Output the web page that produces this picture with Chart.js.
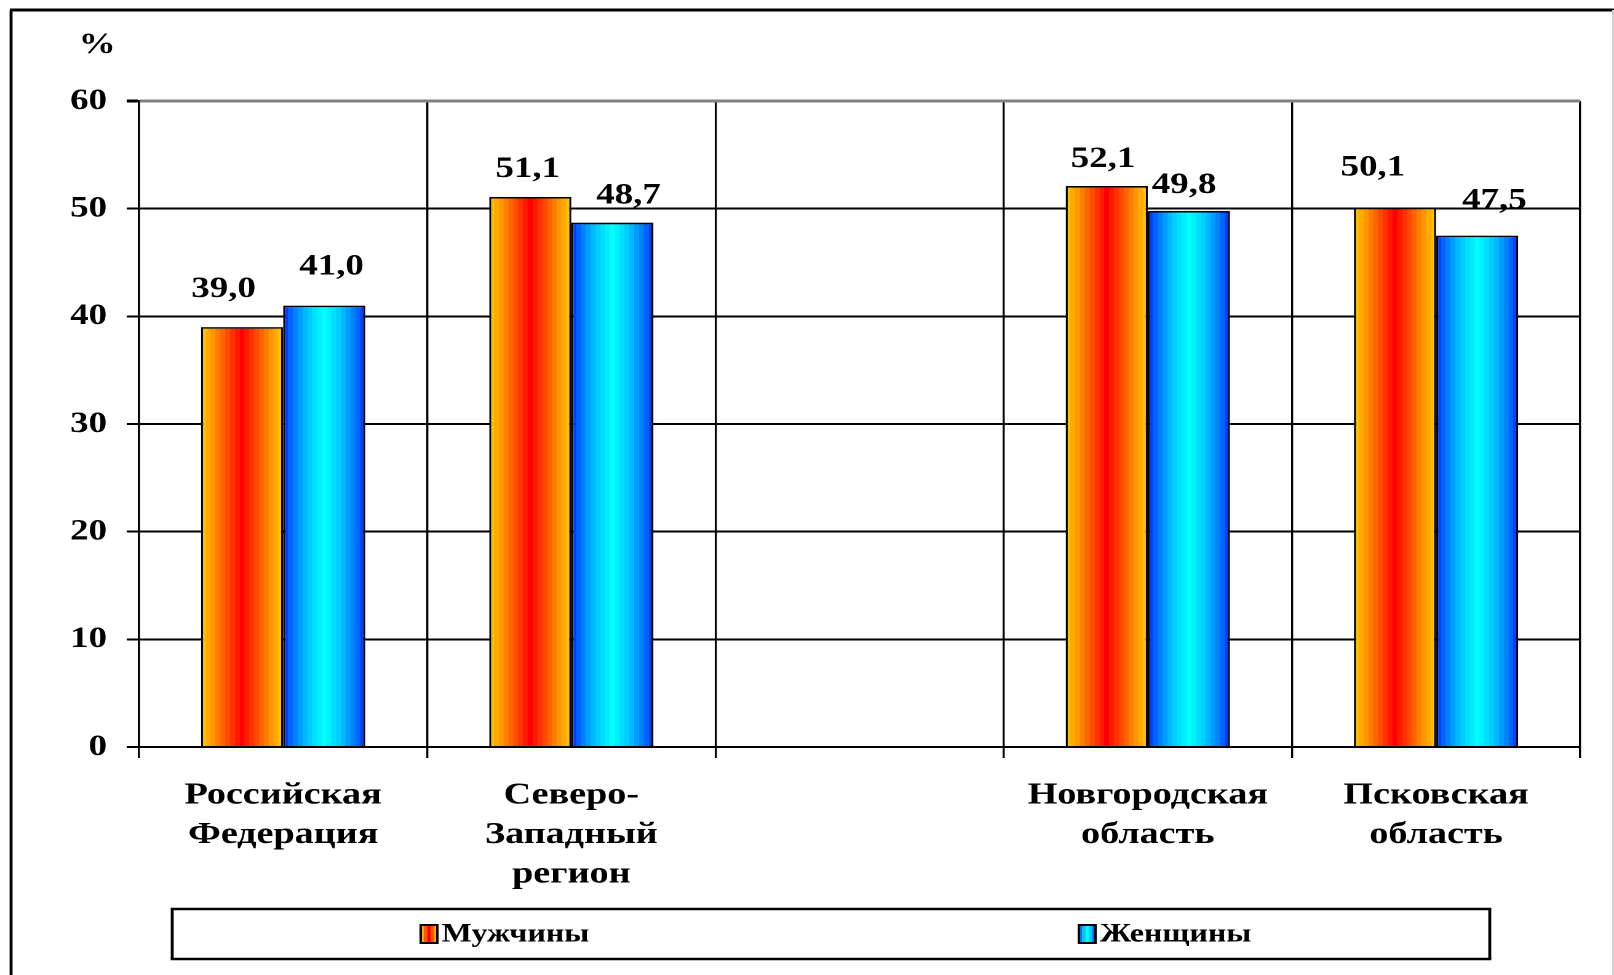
<!DOCTYPE html>
<html>
<head>
<meta charset="utf-8">
<script src="https://cdn.jsdelivr.net/npm/chart.js@4.4.1/dist/chart.umd.min.js"></script>
<style>
html, body { margin: 0; padding: 0; background: #ffffff; overflow: hidden; }
canvas { display: block; }
</style>
</head>
<body>
<!-- the chart is laid out 1312 units wide and shown stretched to 1614 px, like the original wide picture -->
<canvas id="chart" width="1312" height="975" style="width:1614px;height:975px"></canvas>
<script>
// ---------- data ----------
const categories = [["Российская", "Федерация"], ["Северо-", "Западный", "регион"], "", ["Новгородская", "область"], ["Псковская", "область"]];
const seriesNames = ["Мужчины", "Женщины"];
const menValues = [39.0, 51.1, null, 52.1, 50.1];
const womenValues = [41.0, 48.7, null, 49.8, 47.5];
const yTickValues = [0, 10, 20, 30, 40, 50, 60];
const unitLabel = "%";

// ---------- style ----------
const FONT = "'Liberation Serif', 'Times New Roman', serif";
const MEN_STOPS = [[0, '#FF0000'], [0.35, '#FF4A00'], [0.7, '#FF9600'], [1, '#FFC800']];
const WOMEN_STOPS = [[0, '#00FFFF'], [0.4, '#00C8FF'], [0.75, '#0078FF'], [1, '#0030FF']];
const SERIES_STOPS = [MEN_STOPS, WOMEN_STOPS];
const VLINE = 1.7;   // width of vertical lines in layout units

function hexToRgb(h) { return [parseInt(h.slice(1, 3), 16), parseInt(h.slice(3, 5), 16), parseInt(h.slice(5, 7), 16)]; }
function colorAt(stops, d) {
  for (let i = 1; i < stops.length; i++) {
    if (d <= stops[i][0]) {
      const a = stops[i - 1], b = stops[i];
      const f = (d - a[0]) / (b[0] - a[0]);
      const ca = hexToRgb(a[1]), cb = hexToRgb(b[1]);
      return 'rgb(' + ca.map((v, k) => Math.round(v + (cb[k] - v) * f)).join(',') + ')';
    }
  }
  return stops[stops.length - 1][1];
}
function bandGradient(ctx, x0, x1, stops, bands) {
  const g = ctx.createLinearGradient(x0, 0, x1, 0);
  for (let k = 0; k < bands; k++) {
    const t0 = k / bands, t1 = (k + 1) / bands;
    const d = Math.abs((t0 + t1) / 2 - 0.5) * 2;
    const c = colorAt(stops, d);
    g.addColorStop(t0, c);
    g.addColorStop(t1, c);
  }
  return g;
}
const fmt = v => v.toFixed(1).replace('.', ',');

// ---------- plugins ----------
const framePlugin = {
  id: 'frame',
  beforeDraw(chart) {
    const ctx = chart.ctx;
    const W = chart.width, H = chart.height;
    ctx.save();
    ctx.strokeStyle = '#000';
    ctx.lineWidth = 2.4;
    ctx.beginPath(); ctx.moveTo(9, H); ctx.lineTo(9, 10); ctx.stroke();
    ctx.lineWidth = 3;
    ctx.beginPath(); ctx.moveTo(8, 10); ctx.lineTo(W, 10); ctx.stroke();
    ctx.lineWidth = 1.5;
    ctx.strokeStyle = '#d0d0d0';
    ctx.beginPath(); ctx.moveTo(W - 0.8, 10); ctx.lineTo(W - 0.8, H); ctx.stroke();
    ctx.fillStyle = '#000';
    ctx.font = 'bold 30px ' + FONT;
    ctx.textAlign = 'center';
    ctx.textBaseline = 'middle';
    ctx.fillText(unitLabel, 79, 45);
    ctx.restore();
  }
};

const gradientPlugin = {
  id: 'barGradients',
  afterDatasetsUpdate(chart) {
    chart.data.datasets.forEach((ds, di) => {
      const meta = chart.getDatasetMeta(di);
      meta.data.forEach((el, i) => {
        if (ds.data[i] == null) return;
        const p = el.getProps(['x', 'width'], true);
        const g = bandGradient(chart.ctx, p.x - p.width / 2, p.x + p.width / 2, SERIES_STOPS[di], 17);
        el.options = Object.assign({}, el.options, { backgroundColor: g });
      });
    });
  }
};

const labelPlugin = {
  id: 'valueLabels',
  afterDatasetsDraw(chart, args, opts) {
    const ctx = chart.ctx;
    ctx.save();
    ctx.font = 'bold 30px ' + FONT;
    ctx.fillStyle = '#000';
    ctx.textAlign = 'center';
    ctx.textBaseline = 'alphabetic';
    chart.data.datasets.forEach((ds, di) => {
      const meta = chart.getDatasetMeta(di);
      meta.data.forEach((el, i) => {
        const v = ds.data[i];
        if (v == null) return;
        const p = el.getProps(['x', 'y'], true);
        ctx.fillText(fmt(v), p.x + opts.dx[di][i], p.y - opts.gap[di][i]);
      });
    });
    ctx.restore();
  }
};

const legendPlugin = {
  id: 'boxLegend',
  afterDraw(chart, args, opts) {
    const ctx = chart.ctx;
    const b = opts.box;
    ctx.save();
    ctx.strokeStyle = '#000';
    ctx.lineWidth = 2.4;
    ctx.beginPath();
    ctx.moveTo(b.x, b.y); ctx.lineTo(b.x, b.y + b.h);
    ctx.moveTo(b.x + b.w, b.y); ctx.lineTo(b.x + b.w, b.y + b.h);
    ctx.stroke();
    ctx.lineWidth = 2.5;
    ctx.beginPath();
    ctx.moveTo(b.x - 1.2, b.y); ctx.lineTo(b.x + b.w + 1.2, b.y);
    ctx.moveTo(b.x - 1.2, b.y + b.h); ctx.lineTo(b.x + b.w + 1.2, b.y + b.h);
    ctx.stroke();
    const cy = b.y + b.h / 2;
    ctx.font = 'bold 26px ' + FONT;
    ctx.textAlign = 'left';
    ctx.textBaseline = 'middle';
    seriesNames.forEach((name, i) => {
      const mx = opts.itemX[i];
      const mw = 13.5, mh = 18;
      ctx.fillStyle = bandGradient(ctx, mx, mx + mw, SERIES_STOPS[i], 5);
      ctx.fillRect(mx, cy - mh / 2, mw, mh);
      ctx.lineWidth = 2;
      ctx.strokeStyle = '#000';
      ctx.strokeRect(mx, cy - mh / 2, mw, mh);
      ctx.fillStyle = '#000';
      ctx.fillText(name, mx + mw + 3.5, cy + 1);
    });
    ctx.restore();
  }
};

Chart.defaults.font.family = FONT;
Chart.defaults.color = '#000';

const lastIdx = categories.length;

new Chart(document.getElementById('chart'), {
  type: 'bar',
  data: {
    labels: categories,
    datasets: [
      { label: seriesNames[0], data: menValues, backgroundColor: '#FF6000', borderColor: '#000', borderWidth: 1.7, borderSkipped: 'bottom' },
      { label: seriesNames[1], data: womenValues, backgroundColor: '#00C0FF', borderColor: '#000', borderWidth: 1.7, borderSkipped: 'bottom' }
    ]
  },
  options: {
    responsive: false,
    animation: false,
    events: [],
    devicePixelRatio: 2,
    layout: { padding: { left: 0, top: 101, right: 27.5, bottom: 0 } },
    datasets: { bar: { categoryPercentage: 0.57, barPercentage: 1.0 } },
    scales: {
      x: {
        type: 'category',
        offset: true,
        afterFit(s) { s.height = 228; },
        grid: {
          offset: true,
          color: c => (c.index === lastIdx ? '#808080' : '#000'),
          lineWidth: c => (c.index === lastIdx ? 2.4 : VLINE),
          tickColor: c => (c.index === lastIdx ? '#808080' : '#000'),
          tickLength: 11
        },
        border: { display: true, color: '#000', width: 2 },
        ticks: {
          font: { size: 31, weight: 'bold', lineHeight: 1.27 },
          color: '#000',
          padding: 18,
          maxRotation: 0,
          autoSkip: false
        }
      },
      y: {
        min: 0,
        max: 60,
        afterFit(s) { s.width = 113; },
        afterBuildTicks(s) { s.ticks = yTickValues.map(v => ({ value: v })); },
        grid: {
          color: c => (c.tick && c.tick.value === 60 ? '#808080' : '#000'),
          lineWidth: c => (c.tick && c.tick.value === 60 ? 3 : 2),
          tickColor: '#000',
          tickLength: 10
        },
        border: { display: true, color: '#000', width: VLINE },
        ticks: {
          font: { size: 30, weight: 'bold' },
          color: '#000',
          padding: 16,
          callback: v => String(v)
        }
      }
    },
    plugins: {
      legend: { display: false },
      tooltip: { enabled: false },
      valueLabels: {
        dx: [[-15, -2, 0, -3, -18], [6, 13, 0, -4, 14]],
        gap: [[30, 20, 0, 19, 32], [31, 19, 0, 18, 27]]
      },
      boxLegend: {
        box: { x: 140, y: 909, w: 1071, h: 50 },
        itemX: [342, 877]
      }
    }
  },
  plugins: [framePlugin, gradientPlugin, labelPlugin, legendPlugin]
});
</script>
</body>
</html>
